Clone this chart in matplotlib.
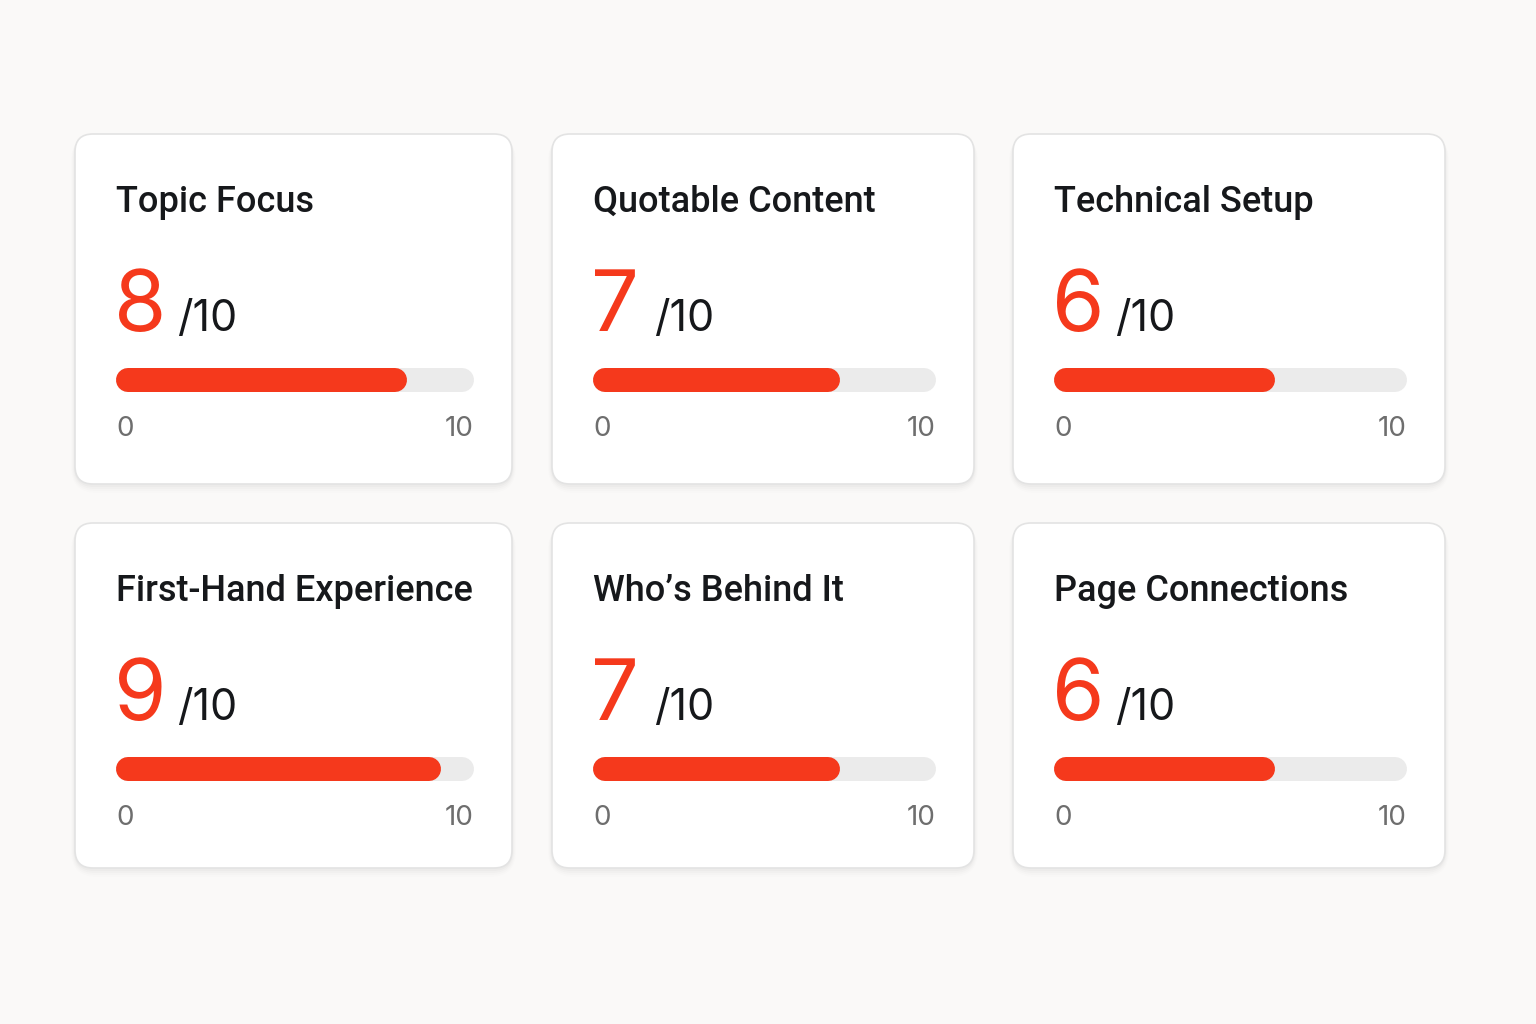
import matplotlib.pyplot as plt
from matplotlib.patches import FancyBboxPatch

# Scores per card
titles = ["Topic Focus", "Quotable Content", "Technical Setup",
          "First-Hand Experience", "Who\u2019s Behind It", "Page Connections"]
scores = [8, 7, 6, 9, 7, 6]
max_score = 10

# Card layout in pixels (left, right) per column and (top, bottom) per row
col_edges = [(75, 512), (552, 974), (1013, 1445)]
row_edges = [(134, 484), (523, 868)]

W, H = 1536, 1024
RED = "#f5391c"
TRACK = "#ebebeb"
DARK = "#16181b"
GRAY = "#6e6e6e"
FONT = ["Inter", "DejaVu Sans"]
TFONT = ["Roboto", "DejaVu Sans"]

fig = plt.figure(figsize=(W / 100, H / 100), dpi=100)
fig.patch.set_facecolor("#faf9f8")
ax = fig.add_axes([0, 0, 1, 1])
ax.set_xlim(0, W)
ax.set_ylim(H, 0)
ax.axis("off")

bar_h = 24  # px

for i, (title, score) in enumerate(zip(titles, scores)):
    x0, x1 = col_edges[i % 3]
    y0, y1 = row_edges[i // 3]

    # soft shadow
    for k, a in enumerate([0.018, 0.014, 0.010, 0.006]):
        g = 2 + 2 * k
        ax.add_patch(FancyBboxPatch((x0 - g / 2, y0 + 1), x1 - x0 + g, y1 - y0 + g,
                                    boxstyle="round,pad=0,rounding_size=%d" % (18 + g),
                                    fc="black", ec="none", alpha=a, zorder=1))
    # card
    ax.add_patch(FancyBboxPatch((x0, y0), x1 - x0, y1 - y0,
                                boxstyle="round,pad=0,rounding_size=18",
                                fc="white", ec="#e3e3e3", lw=1.2, zorder=2))

    left = x0 + 41
    right = x1 - 38
    base = y0 + 78
    ax.text(left, base, title, fontsize=26, color=DARK, family=TFONT,
            weight="medium", va="baseline", ha="left", zorder=3)

    num_base = y0 + 197
    ax.text(left - 2, num_base, str(score), fontsize=61, color=RED, family=FONT,
            va="baseline", ha="left", zorder=3)
    ax.text(left + 61, num_base, "/10", fontsize=31, color=DARK,
            family=FONT, va="baseline", ha="left", zorder=3)

    # progress bar in its own axes, scaled 0..max_score
    bar_c = y0 + 246
    bx0 = left + bar_h / 2
    bx1 = right - bar_h / 2
    bax = fig.add_axes([bx0 / W, 1 - (bar_c + bar_h) / H, (bx1 - bx0) / W, 2 * bar_h / H])
    bax.set_xlim(0, max_score)
    bax.set_ylim(-1, 1)
    bax.axis("off")
    bax.set_zorder(5)
    lw_pt = bar_h * 72 / 100
    bax.plot([0, max_score], [0, 0], color=TRACK, lw=lw_pt,
             solid_capstyle="round", clip_on=False)
    bax.plot([0, score], [0, 0], color=RED, lw=lw_pt,
             solid_capstyle="round", clip_on=False)

    tick_base = y0 + 302
    ax.text(left, tick_base, "0", fontsize=20, color=GRAY, family=FONT,
            va="baseline", ha="left", zorder=3)
    ax.text(right, tick_base, str(max_score), fontsize=20, color=GRAY, family=FONT,
            va="baseline", ha="right", zorder=3)

fig.savefig("out.png", dpi=100, facecolor=fig.get_facecolor())
